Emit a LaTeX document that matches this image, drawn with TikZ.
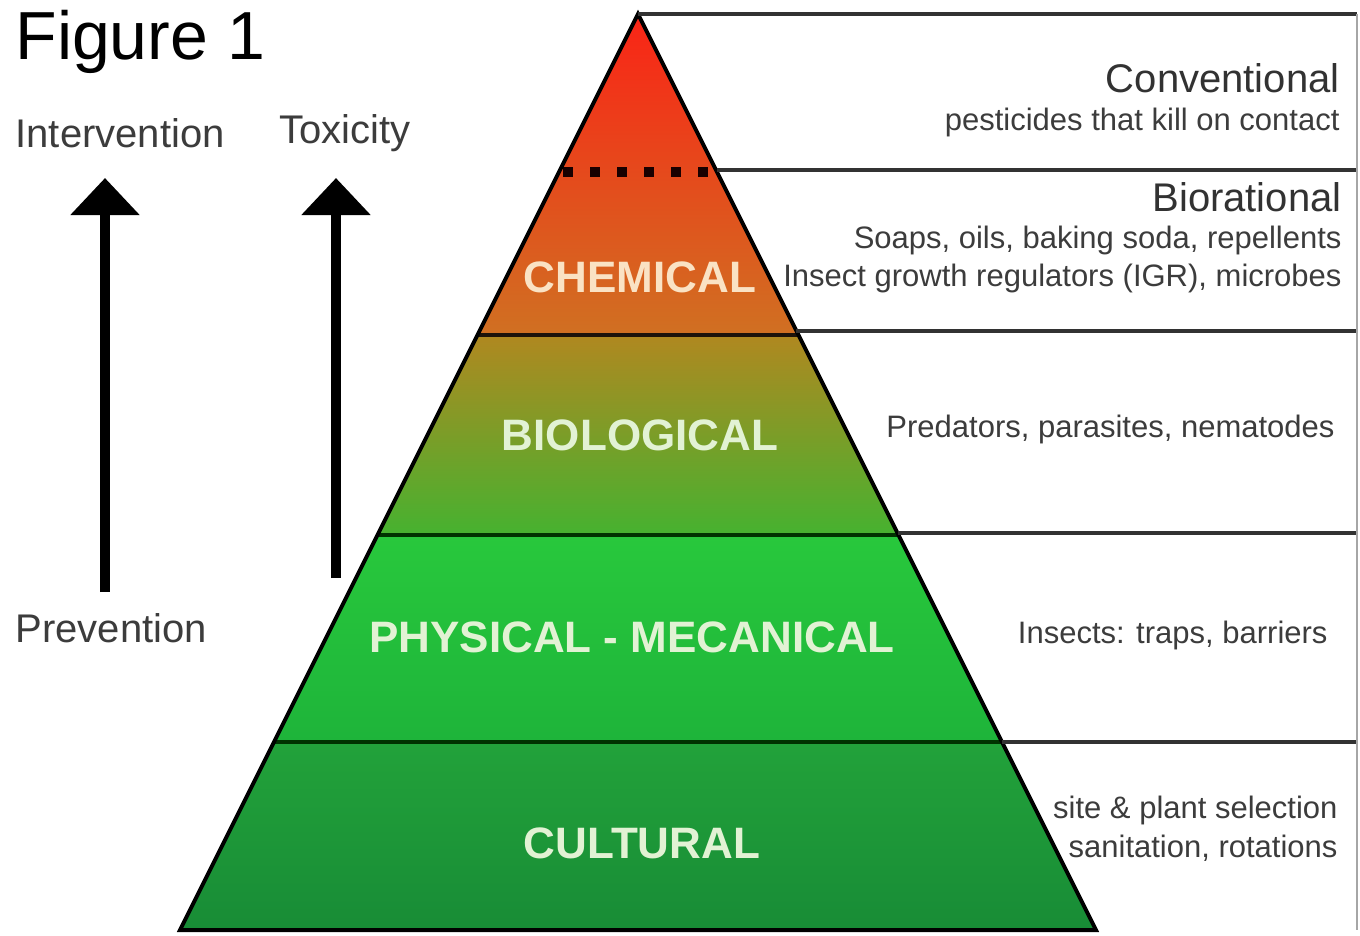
\documentclass[tikz,border=0pt]{standalone}
\usepackage{fontspec}
\setmainfont{Liberation Sans}
\usetikzlibrary{arrows.meta}
\definecolor{chemtop}{RGB}{250, 36, 22}
\definecolor{chemmid}{RGB}{246, 82, 24}
\definecolor{chembot}{RGB}{208, 112, 34}
\definecolor{biotop}{RGB}{176, 136, 32}
\definecolor{biomid}{RGB}{110, 168, 44}
\definecolor{biobot}{RGB}{70, 178, 48}
\definecolor{phystop}{RGB}{40, 200, 60}
\definecolor{physbot}{RGB}{30, 180, 58}
\definecolor{cultop}{RGB}{34, 162, 58}
\definecolor{culbot}{RGB}{24, 140, 54}
\definecolor{chemtext}{RGB}{250, 226, 196}
\definecolor{greentext}{RGB}{226, 242, 212}
\definecolor{boxline}{RGB}{50, 50, 50}
\definecolor{notetext}{RGB}{60, 60, 60}

\begin{document}
\begin{tikzpicture}[x=1pt, y=-1pt,
  tier/.style={font=\fontsize{44}{44}\selectfont\bfseries, text=greentext},
  level/.style={anchor=east, font=\fontsize{40}{44}\selectfont, text=boxline},
  note/.style={anchor=east, font=\fontsize{31}{36}\selectfont, text=notetext},
  axis/.style={line width=10pt, -{Triangle[width=67pt, length=37pt]}},
  sep/.style={line width=4pt, boxline},
  ]

  \useasboundingbox[fill=white] (0, 0) rectangle (1360, 935);

  % pyramid tiers, half width = (y - 14)/2
  \shade[top color=chemtop, middle color=chemmid, bottom color=chembot]
    (638, 14) -- (477.5, 335) -- (798.5, 335) -- cycle;
  \shade[top color=biotop, middle color=biomid, bottom color=biobot]
    (477.5, 335) -- (377.5, 535) -- (898.5, 535) -- (798.5, 335) -- cycle;
  \shade[top color=phystop, bottom color=physbot]
    (377.5, 535) -- (274, 742) -- (1002, 742) -- (898.5, 535) -- cycle;
  \shade[top color=cultop, bottom color=culbot]
    (274, 742) -- (180, 930) -- (1096, 930) -- (1002, 742) -- cycle;

  \draw[line width=4pt, black!85!brown] (477.5, 335) -- (798.5, 335);
  \draw[line width=4pt, black!80!green] (377.5, 535) -- (898.5, 535);
  \draw[line width=4pt, black!80!green] (274, 742) -- (1002, 742);
  \draw[line width=10pt, dash pattern=on 10pt off 17pt, black!90!red] (563, 172) -- (716, 172);
  \draw[line width=4pt, line join=miter] (638, 14) -- (180, 930) -- (1096, 930) -- cycle;

  \node[tier, text=chemtext] (chem) at (640, 277) {CHEMICAL};
  \node[tier] (bio) at (640, 435) {BIOLOGICAL};
  \node[tier] (phys) at (632, 637) {PHYSICAL - MECANICAL};
  \node[tier] (cult) at (642, 843) {CULTURAL};

  % boxes on the right
  \draw[sep] (638, 14) -- (1357, 14);
  \draw[sep] (717, 170) -- (1357, 170);
  \draw[sep] (796, 331) -- (1357, 331);
  \draw[sep] (898, 533) -- (1357, 533);
  \draw[sep] (1002, 742) -- (1357, 742);
  \draw[line width=2pt, gray!70] (1357, 14) -- (1357, 930);

  \node[level] (conv) at (1343, 78) {Conventional};
  \node[note] (convnote) at (1343, 122) {pesticides that kill on contact};
  \node[level] (biorat) at (1345, 197) {Biorational};
  \node[note] (soaps) at (1345, 240) {Soaps, oils, baking soda, repellents};
  \node[note] (igr) at (1345, 278) {Insect growth regulators (IGR), microbes};
  \node[note] (pred) at (1338, 429) {Predators, parasites, nematodes};
  \node[note] (traps) at (1331, 635) {Insects: traps, barriers};
  \node[note] (site) at (1341, 810) {site \& plant selection};
  \node[note] (sanit) at (1341, 848) {sanitation, rotations};

  % left side
  \node[anchor=west, font=\fontsize{68}{70}\selectfont] (fig) at (12, 42) {Figure 1};
  \node[anchor=west, font=\fontsize{40}{44}\selectfont, text=notetext] (interv) at (12, 133) {Intervention};
  \node[anchor=west, font=\fontsize{40}{44}\selectfont, text=notetext] (tox) at (276, 133) {Toxicity};
  \node[anchor=west, font=\fontsize{40}{44}\selectfont, text=notetext] (prev) at (12, 628) {Prevention};

  \coordinate (ilow) at (105, 592);
  \coordinate (ihigh) at (105, 178);
  \coordinate (tlow) at (336, 578);
  \coordinate (thigh) at (336, 178);
  \draw[axis] (ilow) -- (ihigh);
  \draw[axis] (tlow) -- (thigh);

\end{tikzpicture}
\end{document}
